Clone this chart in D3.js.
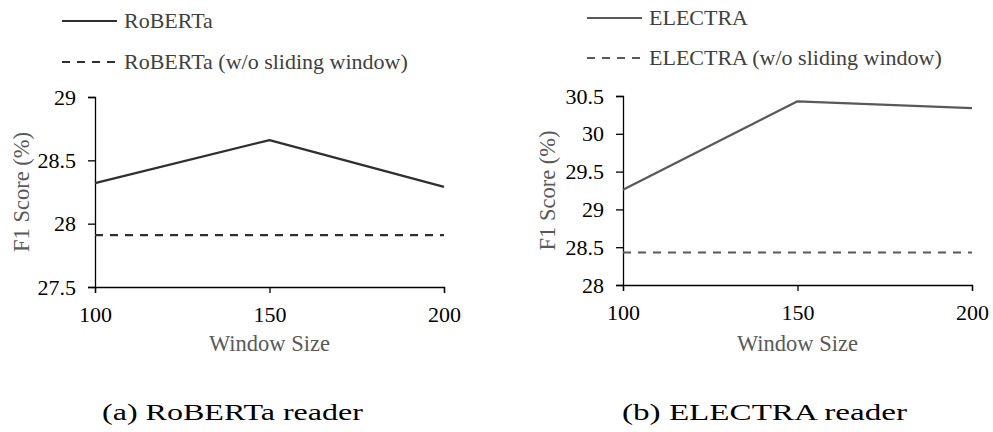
<!DOCTYPE html>
<html>
<head>
<meta charset="utf-8">
<script src="https://cdn.jsdelivr.net/npm/d3@7"></script>
<style>
  body { margin: 0; background: #fff; }
  svg { display: block; }
  text { font-family: "Liberation Serif", "Times New Roman", serif; }
</style>
</head>
<body>
<div id="chart"></div>
<script>
// window sizes on the x axis
var windowSizes = [100, 150, 200]

var robertaScores = [28.32, 28.66, 28.29]
var robertaNoWindow = [27.91, 27.91, 27.91]
var robertaTicks = [27.5, 28, 28.5, 29]

var electraScores = [29.26, 30.43, 30.34]
var electraNoWindow = [28.43, 28.43, 28.43]
var electraTicks = [28, 28.5, 29, 29.5, 30, 30.5]

var serif = '"Liberation Serif", "Times New Roman", serif'

var svg = d3.select('#chart').append('svg')
  .attr('width', 993)
  .attr('height', 432)
  .attr('font-family', serif)

function panel(opts) {
  var x = d3.scaleLinear()
    .domain([windowSizes[0], windowSizes[windowSizes.length - 1]])
    .range([opts.left, opts.right])

  var y = d3.scaleLinear()
    .domain([opts.ticks[0], opts.ticks[opts.ticks.length - 1]])
    .range([opts.bottom, opts.top])

  var xAxis = d3.axisBottom(x).tickValues(windowSizes).tickSize(6).tickPadding(13)
  var yAxis = d3.axisLeft(y).tickValues(opts.ticks).tickSize(7).tickPadding(12)
    .tickFormat(d3.format(''))

  var gx = svg.append('g')
    .attr('transform', 'translate(0,' + opts.bottom + ')')
    .call(xAxis)
  var gy = svg.append('g')
    .attr('transform', 'translate(' + opts.left + ',0)')
    .call(yAxis)

  ;[gx, gy].forEach(function(g) {
    g.attr('font-family', serif).attr('font-size', null)
    g.select('.domain').attr('stroke', '#000').attr('stroke-width', 1.3)
    g.selectAll('.tick line').attr('stroke', '#000').attr('stroke-width', 1.3)
    g.selectAll('.tick text')
      .attr('fill', '#000')
      .style('font-size', '22px')
  })

  var line = d3.line()
    .x(function(d, i) { return x(windowSizes[i]) })
    .y(function(d) { return y(d) })

  svg.append('path')
    .datum(opts.scores)
    .attr('d', line)
    .attr('fill', 'none')
    .attr('stroke', opts.color)
    .attr('stroke-width', 2.3)
    .attr('stroke-linejoin', 'round')

  svg.append('path')
    .datum(opts.noWindow)
    .attr('d', line)
    .attr('fill', 'none')
    .attr('stroke', opts.color)
    .attr('stroke-width', 2.2)
    .attr('stroke-dasharray', '8,7')

  // axis titles
  svg.append('text')
    .attr('transform', 'translate(' + opts.yTitleX + ',' + ((opts.top + opts.bottom) / 2) + ') rotate(-90)')
    .attr('text-anchor', 'middle')
    .attr('dy', '0.35em')
    .attr('fill', '#595959')
    .style('font-size', '22.5px')
    .text('F1 Score (%)')

  svg.append('text')
    .attr('x', (opts.left + opts.right) / 2)
    .attr('y', 351)
    .attr('text-anchor', 'middle')
    .attr('fill', '#595959')
    .style('font-size', '22.5px')
    .text('Window Size')

  // legend
  var legend = [
    { label: opts.name, dash: null, y: opts.legendY[0] },
    { label: opts.name + ' (w/o sliding window)', dash: '8,7', y: opts.legendY[1] }
  ]
  legend.forEach(function(l) {
    svg.append('line')
      .attr('x1', opts.legendX).attr('x2', opts.legendX + 55)
      .attr('y1', l.y).attr('y2', l.y)
      .attr('stroke', opts.color)
      .attr('stroke-width', 2.2)
      .attr('stroke-dasharray', l.dash)
    svg.append('text')
      .attr('x', opts.legendX + 62)
      .attr('y', l.y)
      .attr('dy', '0.33em')
      .attr('fill', '#404040')
      .style('font-size', '22px')
      .text(l.label)
  })

  svg.append('text')
    .attr('x', opts.captionX)
    .attr('y', 420)
    .attr('fill', '#000')
    .style('font-size', '24px')
    .attr('textLength', opts.captionW)
    .attr('lengthAdjust', 'spacingAndGlyphs')
    .text(opts.caption)
}

panel({
  name: 'RoBERTa', scores: robertaScores, noWindow: robertaNoWindow, ticks: robertaTicks,
  color: '#303030', left: 95, right: 444, top: 97, bottom: 287,
  yTitleX: 21, legendX: 62, legendY: [21, 62], captionX: 102, captionW: 261, caption: '(a) RoBERTa reader'
})

panel({
  name: 'ELECTRA', scores: electraScores, noWindow: electraNoWindow, ticks: electraTicks,
  color: '#595959', left: 623, right: 972, top: 96, bottom: 285,
  yTitleX: 547, legendX: 587, legendY: [18, 58], captionX: 622, captionW: 285, caption: '(b) ELECTRA reader'
})
</script>
</body>
</html>
